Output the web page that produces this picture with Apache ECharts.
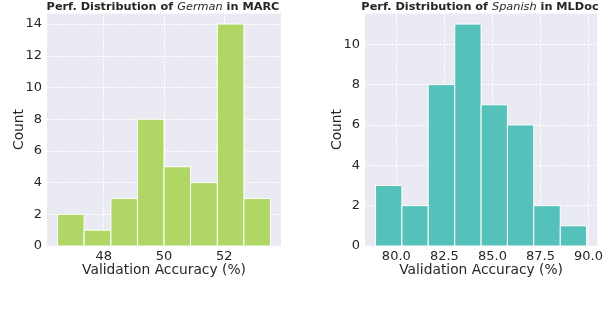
<!DOCTYPE html>
<html><head><meta charset="utf-8">
<script src="https://cdn.jsdelivr.net/npm/echarts@6/dist/echarts.min.js"></script>
<style>html,body{margin:0;padding:0;background:#fff}#c{width:606px;height:312px}</style>
</head><body><div id="c"></div>
<script>
// German / MARC histogram
const deEdges = [46.47, 47.35, 48.24, 49.12, 50.0, 50.88, 51.77, 52.65, 53.53];
const deCounts = [2, 1, 3, 8, 5, 4, 14, 3];
const deXTicks = [48, 50, 52];
const deYTicks = [0, 2, 4, 6, 8, 10, 12, 14];
// Spanish / MLDoc histogram
const esEdges = [78.92, 80.29, 81.66, 83.04, 84.41, 85.78, 87.15, 88.53, 89.90];
const esCounts = [3, 2, 8, 11, 7, 6, 2, 1];
const esXTicks = [80.0, 82.5, 85.0, 87.5, 90.0];
const esYTicks = [0, 2, 4, 6, 8, 10];

const FONT = 'DejaVu Sans';
const TXT = '#262626';
const chart = echarts.init(document.getElementById('c'), null, {renderer: 'canvas'});

function binData(edges, counts) {
  return counts.map((c, i) => [edges[i], edges[i + 1], c]);
}
function renderBar(color) {
  return function (params, api) {
    const p0 = api.coord([api.value(0), 0]);
    const p1 = api.coord([api.value(1), api.value(2)]);
    return {
      type: 'rect',
      shape: {x: p0[0], y: p1[1], width: p1[0] - p0[0], height: p0[1] - p1[1]},
      style: {fill: color, stroke: '#ffffff', lineWidth: 1}
    };
  };
}
const gridLine = {show: true, lineStyle: {color: '#ffffff', width: 1, type: [2, 1]}};
function xAxis(idx, min, max, ticks, dec) {
  return {
    type: 'value', gridIndex: idx, min: min, max: max,
    name: 'Validation Accuracy (%)', nameLocation: 'middle', nameGap: 17, nameMoveOverlap: false,
    nameTextStyle: {fontFamily: FONT, fontSize: 13.8, color: TXT},
    axisLine: {show: false}, axisTick: {show: false, customValues: ticks},
    axisLabel: {customValues: ticks, fontFamily: FONT, fontSize: 13, color: TXT, margin: 4,
      formatter: v => v.toFixed(dec)},
    splitLine: gridLine
  };
}
function yAxis(idx, max, ticks) {
  return {
    type: 'value', gridIndex: idx, min: 0, max: max, interval: 2,
    name: 'Count', nameLocation: 'middle', nameGap: 21, nameMoveOverlap: false,
    nameTextStyle: {fontFamily: FONT, fontSize: 13.8, color: TXT},
    axisLine: {show: false}, axisTick: {show: false},
    axisLabel: {customValues: ticks, fontFamily: FONT, fontSize: 13, color: TXT, margin: 5},
    splitLine: gridLine
  };
}
function title(left, lang, corpus) {
  return {
    text: '{b|Perf. Distribution of }{i|' + lang + '}{b| in ' + corpus + '}',
    left: left, top: 2, textAlign: 'center', padding: 0,
    textStyle: {rich: {
      b: {fontFamily: FONT, fontWeight: 'bold', fontSize: 11.3, color: TXT},
      i: {fontFamily: FONT, fontStyle: 'italic', fontWeight: 'normal', fontSize: 11.3, color: TXT}
    }}
  };
}
chart.setOption({
  backgroundColor: '#ffffff',
  animation: false,
  title: [title(163, 'German', 'MARC'), title(480, 'Spanish', 'MLDoc')],
  grid: [
    {left: 47, right: 325, top: 13, bottom: 66, show: true, backgroundColor: '#EAEAF2', borderWidth: 0},
    {left: 365, right: 7, top: 13, bottom: 66, show: true, backgroundColor: '#EAEAF2', borderWidth: 0}
  ],
  xAxis: [xAxis(0, 46.12, 53.88, deXTicks, 0), xAxis(1, 78.37, 90.45, esXTicks, 1)],
  yAxis: [yAxis(0, 14.7, deYTicks), yAxis(1, 11.55, esYTicks)],
  series: [
    {type: 'custom', xAxisIndex: 0, yAxisIndex: 0, renderItem: renderBar('#b0d665'),
     encode: {x: [0, 1], y: 2}, data: binData(deEdges, deCounts)},
    {type: 'custom', xAxisIndex: 1, yAxisIndex: 1, renderItem: renderBar('#55c1bb'),
     encode: {x: [0, 1], y: 2}, data: binData(esEdges, esCounts)}
  ]
});
</script></body></html>
